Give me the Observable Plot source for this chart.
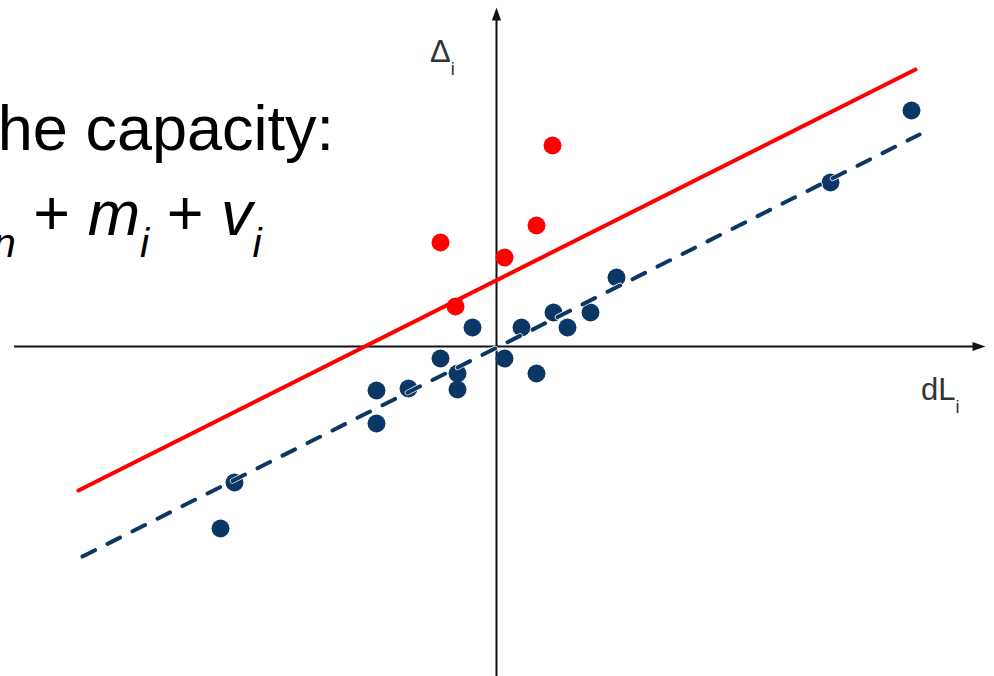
<!DOCTYPE html>
<html><head><meta charset="utf-8">
<script src="https://cdn.jsdelivr.net/npm/d3@7"></script>
<script src="https://cdn.jsdelivr.net/npm/@observablehq/plot@0.6"></script>
<style>html,body{margin:0;padding:0;background:#fff;overflow:hidden} svg{display:block}</style>
</head><body><div id="chart"></div>
<script>
// ---- data (abstract units: dL_i on x, Δ_i on y) ----
const blueX = [41.5, 33.4, 12.0, 9.4, 5.7, 7.1, 2.5, -2.4, -5.6, -3.9, 0.8, 4.0, -3.9, -8.8, -12.0, -12.0, -26.2, -27.6];
const blueY = [23.6, 16.4, 6.9, 3.4, 3.4, 1.9, 1.9, 1.9, -1.2, -2.7, -1.2, -2.7, -4.3, -4.2, -4.4, -7.7, -13.6, -18.2];
const redX = [5.6, 4.0, -5.6, 0.8, -4.1];
const redY = [20.1, 12.1, 10.4, 8.9, 4.0];
const redLineX = [-41.8, 41.9];
const redLineY = [-14.4, 27.7];
const blueLineX = [-41.4, 42.3];
const blueLineY = [-21.0, 21.2];
const xAxisSpan = [-48.2, 48.0];   // horizontal axis line
const xAxisTip = 48.9;
const yAxisSpan = [-33.5, 33.0];   // vertical axis line
const yAxisTip = 33.9;
const xLabel = "dL", yLabel = "Δ", labelSub = "i";
const titleText = "he capacity:";
const formulaParts = [
  {t: "n", italic: true, sub: true},
  {t: "\u00a0+\u00a0", italic: false, sub: false},
  {t: "m", italic: true, sub: false},
  {t: "i", italic: true, sub: true},
  {t: "\u00a0+\u00a0", italic: false, sub: false},
  {t: "v", italic: true, sub: false},
  {t: "i", italic: true, sub: true}
];
// annotation anchors (data units)
const titlePos = {x: -16.2, y: 19.6};
const formulaPos = {x: -50.3, y: 11.1};
const yLabelPos = {x: -6.6, y: 28.4};
const xLabelPos = {x: 42.5, y: -5.4};

const blue = blueX.map((x, i) => ({x, y: blueY[i]}));
const red = redX.map((x, i) => ({x, y: redY[i]}));
const redLine = redLineX.map((x, i) => ({x, y: redLineY[i]}));
const blueLine = blueLineX.map((x, i) => ({x, y: blueLineY[i]}));

const BLUE = "#0a3764", RED = "#ff0000", AXIS = "#111";

const arrowHead = {
  draw(ctx) { ctx.moveTo(0, 0); ctx.lineTo(-4.6, 13); ctx.lineTo(4.6, 13); ctx.closePath(); }
};

const chart = Plot.plot({
  width: 994, height: 676,
  margin: 0,
  style: {background: "#fff", fontFamily: "'Liberation Sans', Arial, sans-serif"},
  x: {domain: [-49.6, 49.8], axis: null},
  y: {domain: [-33, 34.6], axis: null},
  marks: [
    Plot.ruleY([0], {x1: xAxisSpan[0], x2: xAxisSpan[1], stroke: AXIS, strokeWidth: 2}),
    Plot.ruleX([0], {y1: yAxisSpan[0], y2: yAxisSpan[1], stroke: AXIS, strokeWidth: 2}),
    Plot.dot([{x: xAxisTip, y: 0}], {x: "x", y: "y", symbol: arrowHead, rotate: 90, fill: AXIS, stroke: "none"}),
    Plot.dot([{x: 0, y: yAxisTip}], {x: "x", y: "y", symbol: arrowHead, rotate: 0, fill: AXIS, stroke: "none"}),
    Plot.line(redLine, {x: "x", y: "y", stroke: RED, strokeWidth: 4}),
    Plot.dot(red, {x: "x", y: "y", r: 9, fill: RED}),
    Plot.dot(blue, {x: "x", y: "y", r: 9, fill: BLUE}),
    Plot.line(blueLine, {x: "x", y: "y", stroke: "#fff", strokeWidth: 5.5, strokeDasharray: "14,14"}),
    Plot.line(blueLine, {x: "x", y: "y", stroke: BLUE, strokeWidth: 4, strokeDasharray: "14,14"})
  ]
});

const sx = chart.scale("x"), sy = chart.scale("y");
const svg = d3.select(chart);
const FONT = "'Liberation Sans', Arial, sans-serif";

svg.append("text")
  .attr("x", sx.apply(titlePos.x)).attr("y", sy.apply(titlePos.y))
  .attr("text-anchor", "end").attr("font-family", FONT).attr("font-size", 63).attr("fill", "#000")
  .text(titleText);

const f = svg.append("text")
  .attr("x", sx.apply(formulaPos.x)).attr("y", sy.apply(formulaPos.y))
  .attr("text-anchor", "start")
  .attr("font-family", FONT).attr("fill", "#000");
let down = false;
formulaParts.forEach(p => {
  const t = f.append("tspan").text(p.t)
    .attr("font-size", p.sub ? 41 : 63)
    .attr("font-style", p.italic ? "italic" : "normal");
  if (p.sub && !down) { t.attr("dy", 22); down = true; }
  else if (!p.sub && down) { t.attr("dy", -22); down = false; }
});

function label(pos, main, sub) {
  const t = svg.append("text")
    .attr("x", sx.apply(pos.x)).attr("y", sy.apply(pos.y))
    .attr("text-anchor", "start")
    .attr("font-family", FONT).attr("fill", "#333").attr("font-size", 31);
  t.append("tspan").text(main);
  t.append("tspan").text(sub).attr("font-size", 18).attr("dy", 13);
}
label(yLabelPos, yLabel, labelSub);
label(xLabelPos, xLabel, labelSub);

document.getElementById("chart").append(chart);
</script>
</body></html>
